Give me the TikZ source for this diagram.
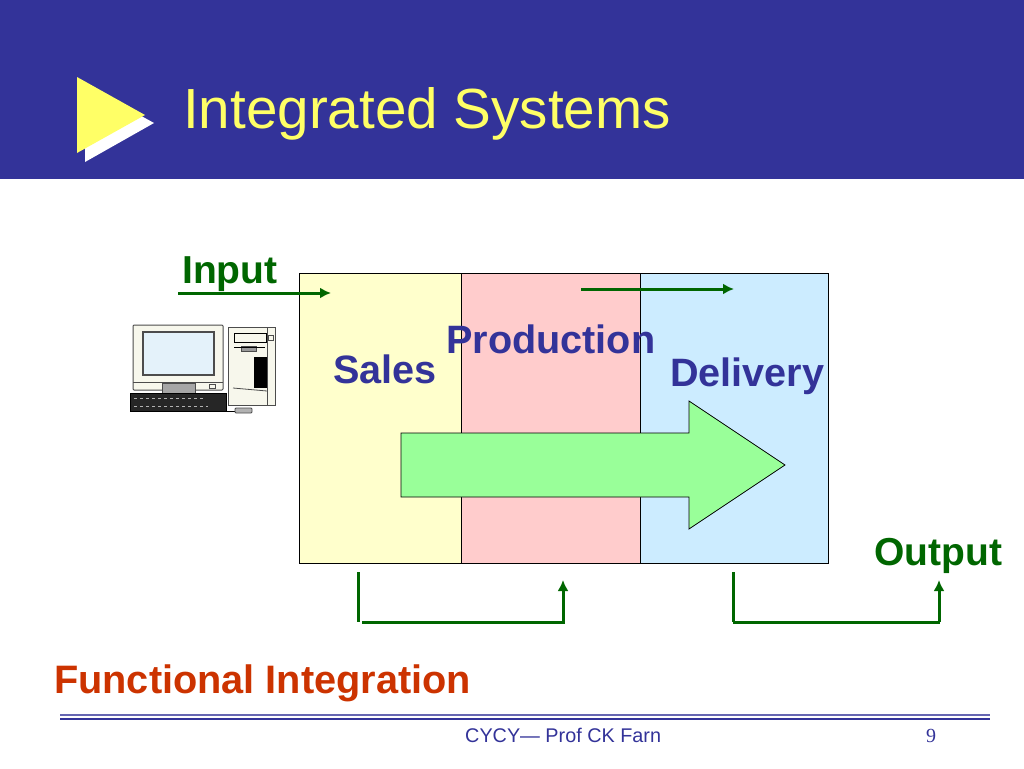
\documentclass[tikz,border=0pt]{standalone}
\usepackage{fontspec}
\setmainfont{Liberation Sans}
\newfontfamily\serifnum{Liberation Serif}
\usetikzlibrary{arrows.meta}
\definecolor{headblue}{HTML}{333399}
\definecolor{headyellow}{HTML}{FFFF66}
\definecolor{flowgreen}{HTML}{006600}
\definecolor{salesbox}{HTML}{FFFFCC}
\definecolor{prodbox}{HTML}{FFCCCC}
\definecolor{delivbox}{HTML}{CCECFF}
\definecolor{bigarrow}{HTML}{99FF99}
\definecolor{redlabel}{HTML}{CC3300}
\definecolor{pcbody}{HTML}{F7F7EC}
\definecolor{pcscreen}{HTML}{E4F2FA}
\tikzset{
	txt/.style={inner sep=0pt, anchor=base west},
	blocktxt/.style={txt, font=\bfseries\fontsize{39.6}{39.6}\selectfont, text=headblue},
	flowtxt/.style={txt, font=\bfseries\fontsize{39}{39}\selectfont, text=flowgreen},
	areabox/.style={draw=black, line width=0.8pt},
	flowline/.style={draw=flowgreen, line width=3pt},
	flowarrow/.style={flowline, -{Latex[length=11pt,width=11pt]}},
	pcpart/.style={draw=black!70, line width=1pt, fill=pcbody}
}
\begin{document}
\begin{tikzpicture}[x=1pt, y=-1pt]
	\useasboundingbox (0,0) rectangle (1024,768);
	\fill[white] (0,0) rectangle (1024,768);
	
	%Header
	\fill[headblue] (0,0) rectangle (1024,179);
	\fill[white] (85,85) -- (154,123) -- (85,162) -- cycle;
	\fill[headyellow] (77,77) -- (145,115) -- (77,153) -- cycle;
	\node(Title) at (183,128) [txt, font=\fontsize{56.6}{56.6}\selectfont, text=headyellow]{Integrated Systems};
	
	%Blocks
	\node(SalesBox) at (298.5,273) [areabox, fill=salesbox, anchor=north west, minimum width=162.5pt, minimum height=290pt]{};
	\node(ProductionBox) at (461,273) [areabox, fill=prodbox, anchor=north west, minimum width=178.5pt, minimum height=290pt]{};
	\node(DeliveryBox) at (639.5,272.5) [areabox, fill=delivbox, anchor=north west, minimum width=188pt, minimum height=290.5pt]{};
	\draw[black, line width=0.8pt, fill=bigarrow] (401,433) -- (689,433) -- (689,401) -- (785,465) -- (689,529) -- (689,497) -- (401,497) -- cycle;
	
	%Computer
	\draw[pcpart, rounded corners=1pt] (133,325) rectangle (223,390);
	\draw[draw=black!70, line width=1.2pt, fill=pcscreen] (143,332) rectangle (214,375);
	\draw[black!70, line width=0.8pt] (133,382) -- (223,382);
	\draw[draw=black!70, fill=black!35, line width=0.8pt] (162,383) rectangle (195,393);
	\draw[pcpart, line width=0.8pt] (209,384) rectangle (215,388);
	\draw[draw=black, fill=black!85, line width=1pt] (130,393) rectangle (226,411);
	\draw[white!70!black, line width=0.8pt, dashed] (134,398) -- (205,398);
	\draw[white!70!black, line width=0.8pt, dashed] (134,406) -- (208,406);
	\draw[pcpart] (228,327) rectangle (275,405);
	\draw[black!70, line width=0.8pt] (267,327) -- (267,405);
	\draw[draw=black, fill=pcbody, line width=1pt] (234,333) rectangle (266,342);
	\draw[draw=black!70, fill=black!40, line width=0.8pt] (241,346) rectangle (256,351);
	\draw[black, line width=1pt] (234,347) -- (265,347);
	\fill[black] (254,357) rectangle (267,388);
	\draw[pcpart, line width=0.8pt] (268,335) rectangle (273,340);
	\draw[black!70, line width=0.8pt] (233,388) -- (267,391);
	\draw[black, line width=0.8pt] (226,411) -- (235,411);
	\draw[draw=black!70, fill=black!30, line width=0.8pt, rounded corners=1pt] (235,408) rectangle (252,413);
	
	%Labels
	\node(SalesLabel) at (333,383) [blocktxt]{Sales};
	\node(ProductionLabel) at (446,353) [blocktxt]{Production};
	\node(DeliveryLabel) at (670,386) [blocktxt]{Delivery};
	\node(InputLabel) at (182,283) [flowtxt]{Input};
	\node(OutputLabel) at (874,565) [flowtxt]{Output};
	\node(FunctionalLabel) at (54,693) [txt, font=\bfseries\fontsize{39.7}{39.7}\selectfont, text=redlabel]{Functional Integration};
	
	%Flow arrows
	\coordinate (InputStart) at (178,293);
	\coordinate (InputEnd) at (331,293);
	\coordinate (MidStart) at (581,289);
	\coordinate (MidEnd) at (734,289);
	\coordinate (LeftTop) at (358,572);
	\coordinate (LeftBot) at (358,622);
	\coordinate (LeftRun) at (362,622);
	\coordinate (LeftCorner) at (565,622);
	\coordinate (LeftFoot) at (563,622);
	\coordinate (LeftEnd) at (563,580);
	\coordinate (RightTop) at (733,572);
	\coordinate (RightBot) at (733,622);
	\coordinate (RightCorner) at (940,622);
	\coordinate (RightFoot) at (939,622);
	\coordinate (RightEnd) at (939,580);
	\draw[flowarrow] (InputStart) -- (InputEnd);
	\draw[flowarrow] (MidStart) -- (MidEnd);
	\draw[flowline] (LeftTop) -- (LeftBot);
	\draw[flowline] (LeftRun) -- (LeftCorner);
	\draw[flowarrow] (LeftFoot) -- (LeftEnd);
	\draw[flowline] (RightTop) -- (RightBot);
	\draw[flowline] (RightBot) -- (RightCorner);
	\draw[flowarrow] (RightFoot) -- (RightEnd);
	
	%Footer
	\draw[headblue!75, line width=1.6pt] (60,715) -- (990,715);
	\draw[headblue, line width=2pt] (60,718.5) -- (990,718.5);
	\node(FootLabel) at (465,742) [txt, font=\fontsize{19.8}{19.8}\selectfont, text=headblue]{CYCY--- Prof CK Farn};
	\node(PageLabel) at (926,742) [txt, font=\serifnum\fontsize{20}{20}\selectfont, text=headblue]{9};
\end{tikzpicture}
\end{document}
